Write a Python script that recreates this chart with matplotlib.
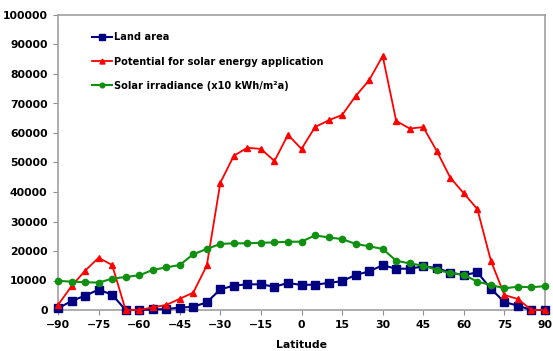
import matplotlib
matplotlib.use("Agg")
import matplotlib.pyplot as plt

latitude = list(range(-90, 91, 5))

land_area = [550, 3050, 4850, 6900, 5200, 0, 0, 200, 300, 800, 1100, 2600,
             7000, 8250, 8700, 8700, 7900, 9150, 8500, 8600, 9150, 9800,
             11850, 13100, 15150, 14000, 14000, 14800, 14250, 12650, 11850,
             12750, 7200, 2700, 1450, 0, 0]

solar_potential = [1700, 8100, 13300, 17700, 15250, 0, 0, 900, 1700, 3800,
                   5900, 15100, 43150, 52300, 55000, 54600, 50500, 59400,
                   54600, 62000, 64300, 66100, 72500, 77900, 86100, 64100,
                   61500, 62000, 53900, 44850, 39550, 34200, 16700, 5100,
                   3700, 0, 0]

solar_irradiance = [9900, 9600, 9400, 9300, 10600, 11200, 11750, 13550, 14450,
                    15250, 18900, 20700, 22400, 22600, 22600, 22800, 22900,
                    23150, 23150, 25300, 24600, 24050, 22400, 21600, 20700,
                    16700, 15800, 15000, 13650, 12500, 11950, 9600, 8500,
                    7350, 7900, 7700, 8100]

labels = ["Land area", "Potential for solar energy application",
          "Solar irradiance (x10 kWh/m\u00b2a)"]
x_ticks = list(range(-90, 91, 15))
y_ticks = list(range(0, 100001, 10000))

plt.rcParams["font.family"] = ["DejaVu Sans"]
plt.rcParams["font.weight"] = "bold"

fig = plt.figure(figsize=(5.53, 3.51), dpi=100)
ax = fig.add_axes([58 / 553, 1 - 310 / 351, 487 / 553, 295 / 351])

ax.plot(latitude, land_area, color="#000080", lw=1.5, marker="s",
        markersize=5.3, label=labels[0], clip_on=False, zorder=3)
ax.plot(latitude, solar_potential, color="#ff0000", lw=1.3, marker="^",
        markersize=4.8, label=labels[1], clip_on=False, zorder=4)
ax.plot(latitude, solar_irradiance, color="#109010", lw=1.5, marker="o",
        markersize=4.5, label=labels[2], clip_on=False, zorder=5)

ax.set_xlim(-90, 90)
ax.set_ylim(0, 100000)
ax.set_xticks(x_ticks)
ax.set_yticks(y_ticks)
ax.tick_params(axis="both", direction="out", length=3.5, color="#909090",
               labelsize=7.8, pad=4)
for lbl in ax.get_xticklabels() + ax.get_yticklabels():
    lbl.set_fontweight("bold")
for side in ["left", "right", "top", "bottom"]:
    ax.spines[side].set_color("#a0a0a0")
    ax.spines[side].set_linewidth(1.2)

ax.set_xlabel("Latitude", fontsize=7.8, fontweight="bold", labelpad=7)

leg = ax.legend(loc="upper left", bbox_to_anchor=(0.062, 0.955), frameon=False,
                fontsize=7.1, handlelength=2.0, handletextpad=0.2,
                labelspacing=1.45, borderaxespad=0, markerscale=0.75)
for t in leg.get_texts():
    t.set_fontweight("bold")

fig.savefig("out.png", dpi=100, facecolor="white")
